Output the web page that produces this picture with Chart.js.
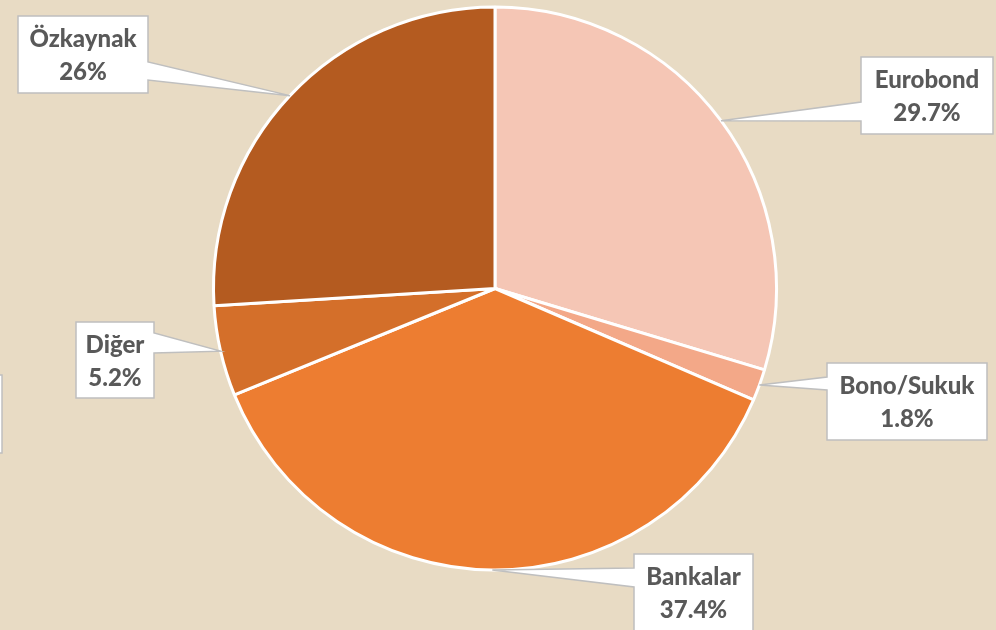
<!DOCTYPE html>
<html>
<head>
<meta charset="utf-8">
<script src="https://cdn.jsdelivr.net/npm/chart.js@4/dist/chart.umd.min.js"></script>
<style>
  html, body { margin: 0; padding: 0; background: #E8DBC4; }
  canvas { display: block; }
</style>
</head>
<body>
<canvas id="fundingChart" width="996" height="630"></canvas>
<script>
// data
const categories = ['Eurobond', 'Bono/Sukuk', 'Bankalar', 'Diğer', 'Özkaynak'];
const shares = [29.7, 1.8, 37.4, 5.2, 26];
const shareLabels = ['29.7%', '1.8%', '37.4%', '5.2%', '26%'];
const sliceColors = ['#F5C6B5', '#F3A888', '#ED7D31', '#D46F2A', '#B45B20'];

// callout boxes (layout only): box rect, side where the pointer leaves, pointer base offsets
const callouts = [
    { x: 861, y: 57, w: 132, h: 77, side: 'left', b1: 45, b2: 64 },
    { x: 827, y: 363, w: 160, h: 77, side: 'left', b1: 14, b2: 27 },
    { x: 634, y: 554, w: 119, h: 90, side: 'left', b1: 14, b2: 33 },
    { x: 76, y: 322, w: 78, h: 76, side: 'right', b1: 11, b2: 31 },
    { x: 18, y: 16, w: 130, h: 77, side: 'right', b1: 46, b2: 64 }
];

const calloutPlugin = {
    id: 'callouts',
    beforeDraw(chart) {
        const c = chart.ctx;
        c.save();
        c.fillStyle = '#E8DBC4';
        c.fillRect(0, 0, chart.width, chart.height);
        // cropped box at the left edge
        c.fillStyle = '#FFFFFF';
        c.strokeStyle = '#BFBFBF';
        c.lineWidth = 1.5;
        c.fillRect(-10, 375, 12, 78);
        c.strokeRect(-10, 375, 12, 78);
        c.restore();
    },
    afterDraw(chart) {
        const c = chart.ctx;
        const arcs = chart.getDatasetMeta(0).data;
        c.save();
        arcs.forEach((arc, i) => {
            const p = callouts[i];
            const mid = (arc.startAngle + arc.endAngle) / 2;
            const tx = arc.x + Math.cos(mid) * arc.outerRadius;
            const ty = arc.y + Math.sin(mid) * arc.outerRadius;
            const x0 = p.x, y0 = p.y, x1 = p.x + p.w, y1 = p.y + p.h;
            c.beginPath();
            if (p.side === 'right') {
                c.moveTo(x0, y0);
                c.lineTo(x1, y0);
                c.lineTo(x1, y0 + p.b1);
                c.lineTo(tx, ty);
                c.lineTo(x1, y0 + p.b2);
                c.lineTo(x1, y1);
                c.lineTo(x0, y1);
            } else {
                c.moveTo(x1, y0);
                c.lineTo(x0, y0);
                c.lineTo(x0, y0 + p.b1);
                c.lineTo(tx, ty);
                c.lineTo(x0, y0 + p.b2);
                c.lineTo(x0, y1);
                c.lineTo(x1, y1);
            }
            c.closePath();
            c.fillStyle = '#FFFFFF';
            c.fill();
            c.strokeStyle = '#BFBFBF';
            c.lineWidth = 1.5;
            c.stroke();

            c.fillStyle = '#595959';
            c.font = '900 24px Lato';
            c.textAlign = 'center';
            c.textBaseline = 'middle';
            const cx = x0 + p.w / 2;
            c.fillText(chart.data.labels[i], cx, y0 + 23);
            c.fillText(shareLabels[i], cx, y0 + 56);
        });
        c.restore();
    }
};

const ctx = document.getElementById('fundingChart').getContext('2d');
const chart = new Chart(ctx, {
    type: 'pie',
    data: {
        labels: categories,
        datasets: [{
            data: shares,
            backgroundColor: sliceColors,
            borderColor: '#FFFFFF',
            borderWidth: 3
        }]
    },
    options: {
        responsive: false,
        animation: false,
        layout: { padding: { top: 5, bottom: 58, left: 212, right: 218 } },
        plugins: {
            legend: { display: false },
            tooltip: { enabled: false }
        }
    },
    plugins: [calloutPlugin]
});
</script>
</body>
</html>
